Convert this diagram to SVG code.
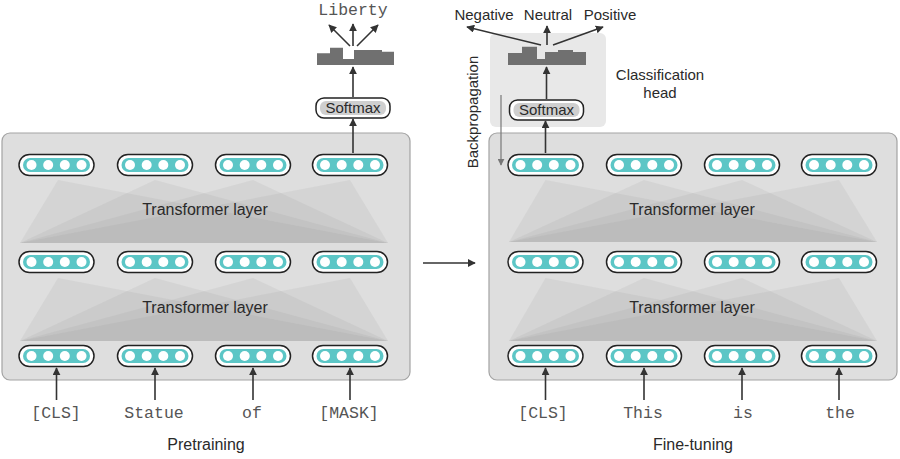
<svg xmlns="http://www.w3.org/2000/svg" width="900" height="459" viewBox="0 0 900 459">
<defs>
<marker id="ah" viewBox="0 0 10 10" refX="9" refY="5" markerWidth="8" markerHeight="8" markerUnits="userSpaceOnUse" orient="auto">
<path d="M0,0 L10,5 L0,10 z" fill="#333"/>
</marker>
<marker id="ahg" viewBox="0 0 10 10" refX="9" refY="5" markerWidth="7" markerHeight="7" markerUnits="userSpaceOnUse" orient="auto">
<path d="M0,0 L10,5 L0,10 z" fill="#777"/>
</marker>
<g id="pill">
<rect x="-37.5" y="-10.5" width="75" height="21" rx="10.5" fill="#fff" stroke="#222" stroke-width="1.5"/>
<rect x="-33.5" y="-7" width="67" height="14" rx="7" fill="#5cc6c6"/>
<circle cx="-25" cy="0" r="5" fill="#fff"/>
<circle cx="-8.3" cy="0" r="5" fill="#fff"/>
<circle cx="8.3" cy="0" r="5" fill="#fff"/>
<circle cx="25" cy="0" r="5" fill="#fff"/>
</g>
<g id="softmax">
<rect x="-37" y="-10" width="74" height="20" rx="8" fill="#fff" stroke="#222" stroke-width="1.5"/>
<rect x="-33" y="-7" width="66" height="14" rx="6" fill="#cfcfcf"/>
</g>
</defs>
<style>
.panel{fill:#dedede;stroke:#a3a3a3;stroke-width:1.2}
.tri{fill:#8a8a8a;fill-opacity:0.11}
.lbl{font-family:"Liberation Sans",Arial,sans-serif;font-size:16px;fill:#2a2a2a;text-anchor:middle}
.sm{font-size:15px}
.mono{font-family:"Liberation Mono","Courier New",monospace;font-size:16.5px;fill:#555;text-anchor:middle}
.conn{stroke:#333;stroke-width:1.6;fill:none;marker-end:url(#ah)}
.hist{fill:#707070}
</style>

<g id="pretraining">
<rect class="panel" x="2" y="133" width="408" height="247" rx="8"/>
<g id="pt-layer1">
<polygon class="tri" points="20,243 58,180 388,243"/>
<polygon class="tri" points="20,243 155,180 388,243"/>
<polygon class="tri" points="20,243 253,180 388,243"/>
<polygon class="tri" points="20,243 350,180 388,243"/>
<text class="lbl" x="205" y="215">Transformer layer</text>
</g>
<g id="pt-layer2">
<polygon class="tri" points="20,341 58,278 388,341"/>
<polygon class="tri" points="20,341 155,278 388,341"/>
<polygon class="tri" points="20,341 253,278 388,341"/>
<polygon class="tri" points="20,341 350,278 388,341"/>
<text class="lbl" x="205" y="313">Transformer layer</text>
</g>
<g id="pt-row1"><use href="#pill" x="56.5" y="165"/><use href="#pill" x="155" y="165"/><use href="#pill" x="253" y="165"/><use href="#pill" x="350" y="165"/></g>
<g id="pt-row2"><use href="#pill" x="56.5" y="262"/><use href="#pill" x="155" y="262"/><use href="#pill" x="253" y="262"/><use href="#pill" x="350" y="262"/></g>
<g id="pt-row3"><use href="#pill" x="56.5" y="356"/><use href="#pill" x="155" y="356"/><use href="#pill" x="253" y="356"/><use href="#pill" x="350" y="356"/></g>
</g>

<g id="pt-softmax"><use href="#softmax" x="353" y="108"/><text class="lbl sm" x="353" y="113">Softmax</text></g>
<g id="pt-hist"><path class="hist" d="M317,65 V53.3 H330 V47.7 H343 V59 H354 V50 H382 V51.7 H394 V65 Z"/></g>
<g id="pt-words">
<text class="mono" x="56" y="418">[CLS]</text>
<text class="mono" x="154" y="418">Statue</text>
<text class="mono" x="252" y="418">of</text>
<text class="mono" x="349" y="418">[MASK]</text>
<text class="mono" x="353" y="15">Liberty</text>
</g>
<text id="pt-caption" class="lbl" x="206" y="450">Pretraining</text>

<g id="finetuning">
<rect class="panel" x="489" y="133" width="408" height="247" rx="8"/>
<g id="ft-layer1">
<polygon class="tri" points="509,242 545.5,180 877,242"/>
<polygon class="tri" points="509,242 644,180 877,242"/>
<polygon class="tri" points="509,242 742,180 877,242"/>
<polygon class="tri" points="509,242 839,180 877,242"/>
<text class="lbl" x="692" y="215">Transformer layer</text>
</g>
<g id="ft-layer2">
<polygon class="tri" points="509,341 545.5,278 877,341"/>
<polygon class="tri" points="509,341 644,278 877,341"/>
<polygon class="tri" points="509,341 742,278 877,341"/>
<polygon class="tri" points="509,341 839,278 877,341"/>
<text class="lbl" x="692" y="313">Transformer layer</text>
</g>
<g id="ft-row1"><use href="#pill" x="545.5" y="165"/><use href="#pill" x="644" y="165"/><use href="#pill" x="742" y="165"/><use href="#pill" x="839" y="165"/></g>
<g id="ft-row2"><use href="#pill" x="545.5" y="262"/><use href="#pill" x="644" y="262"/><use href="#pill" x="742" y="262"/><use href="#pill" x="839" y="262"/></g>
<g id="ft-row3"><use href="#pill" x="545.5" y="356"/><use href="#pill" x="644" y="356"/><use href="#pill" x="742" y="356"/><use href="#pill" x="839" y="356"/></g>
</g>

<g id="class-head">
<rect x="490" y="33" width="116" height="94" rx="6" fill="#e8e8e8"/>
<use href="#softmax" x="546.5" y="110"/><text class="lbl sm" x="546.5" y="115">Softmax</text>
<path class="hist" d="M508,65 V53 H522 V46.7 H537 V59 H545 V52 H558 V50 H573 V52 H586 V65 Z"/>
<text class="lbl sm" x="660" y="80">Classification</text>
<text class="lbl sm" x="660" y="98">head</text>
</g>
<g id="ft-words">
<text class="mono" x="543" y="418">[CLS]</text>
<text class="mono" x="643" y="418">This</text>
<text class="mono" x="743" y="418">is</text>
<text class="mono" x="840" y="418">the</text>
<text class="lbl sm" x="484" y="20">Negative</text>
<text class="lbl sm" x="548" y="20">Neutral</text>
<text class="lbl sm" x="610" y="20">Positive</text>
</g>
<text id="backprop" class="lbl sm" transform="translate(478,112) rotate(-90)">Backpropagation</text>
<text id="ft-caption" class="lbl" x="693" y="450">Fine-tuning</text>

<g id="connectors">
<line class="conn" x1="56.5" y1="400" x2="56.5" y2="368"/>
<line class="conn" x1="155" y1="400" x2="155" y2="368"/>
<line class="conn" x1="253" y1="400" x2="253" y2="368"/>
<line class="conn" x1="350" y1="400" x2="350" y2="368"/>
<line class="conn" x1="545.5" y1="400" x2="545.5" y2="368"/>
<line class="conn" x1="644" y1="400" x2="644" y2="368"/>
<line class="conn" x1="742" y1="400" x2="742" y2="368"/>
<line class="conn" x1="839" y1="400" x2="839" y2="368"/>
<line class="conn" x1="353" y1="153" x2="353" y2="119"/>
<line class="conn" x1="353" y1="97" x2="353" y2="67"/>
<line class="conn" x1="350" y1="46" x2="329" y2="25"/>
<line class="conn" x1="353" y1="46" x2="353" y2="24"/>
<line class="conn" x1="357" y1="46" x2="378" y2="25"/>
<line class="conn" x1="545.5" y1="153" x2="545.5" y2="121"/>
<line class="conn" x1="546.5" y1="99" x2="546.5" y2="67"/>
<line class="conn" x1="541" y1="45" x2="467" y2="27"/>
<line class="conn" x1="547" y1="45" x2="547" y2="26"/>
<line class="conn" x1="553" y1="45" x2="603" y2="27"/>
<line class="conn" x1="423" y1="263" x2="475" y2="263"/>
<line x1="501" y1="95" x2="501" y2="165" stroke="#777" stroke-width="1.2" marker-end="url(#ahg)"/>
</g>
</svg>
